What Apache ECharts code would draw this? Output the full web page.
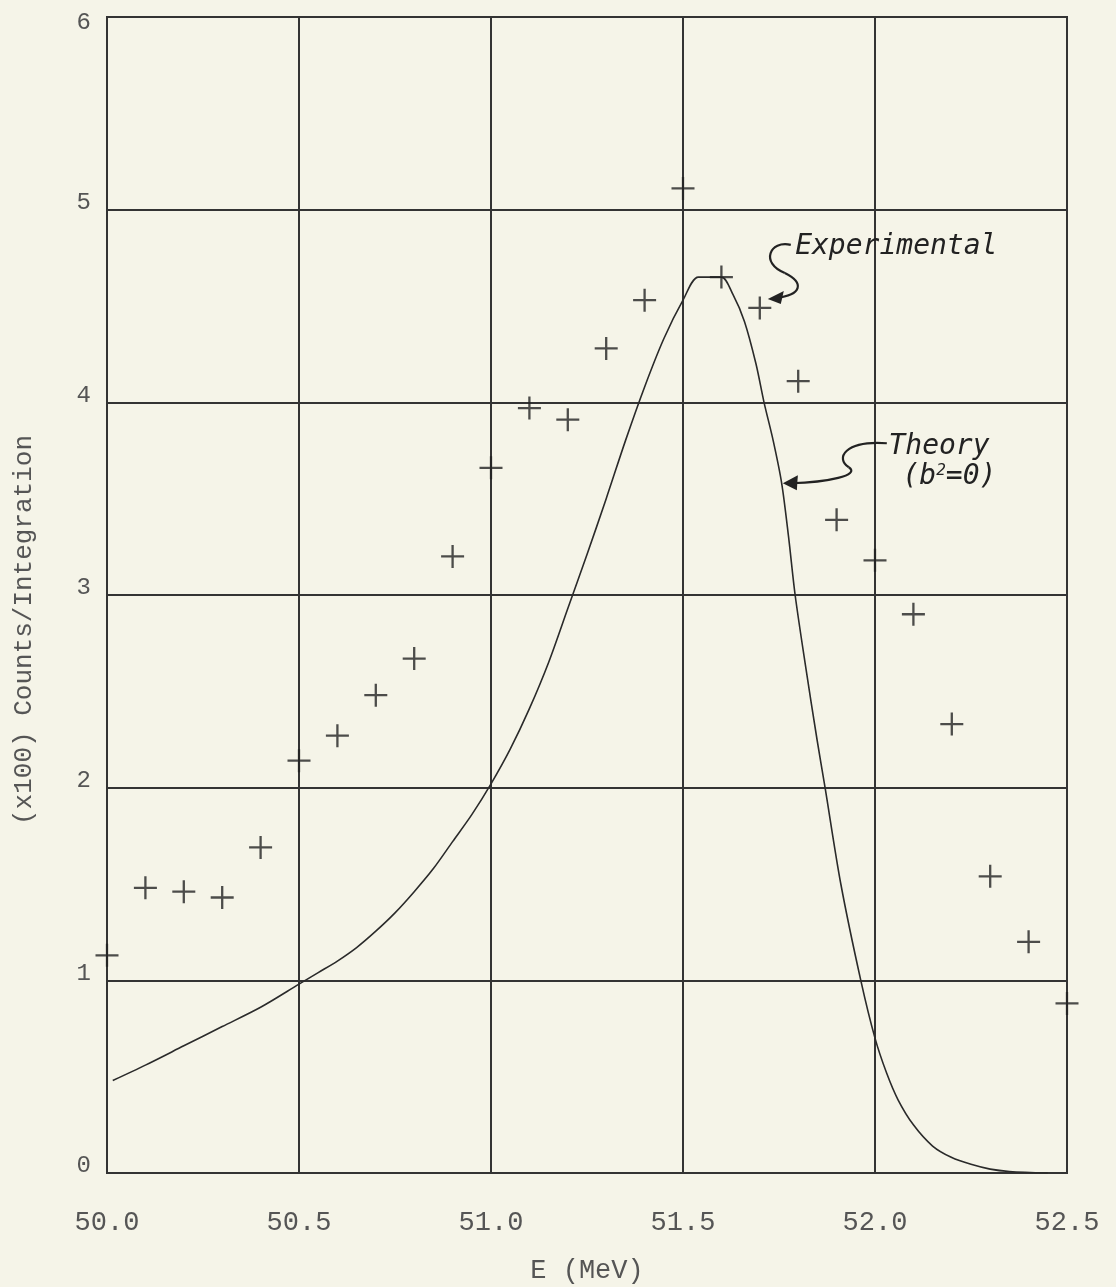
<!DOCTYPE html>
<html>
<head>
<meta charset="utf-8">
<script src="https://cdn.jsdelivr.net/npm/echarts@6/dist/echarts.min.js"></script>
<style>
html,body{margin:0;padding:0;background:#f5f4e8;}
#c{width:1116px;height:1287px;}
</style>
</head>
<body>
<div id="c"></div>
<script>
// Experimental points: energy (MeV) and counts (x100)
const expE = [50.0,50.1,50.2,50.3,50.4,50.5,50.6,50.7,50.8,50.9,51.0,51.1,51.2,51.3,51.4,51.5,51.6,51.7,51.8,51.9,52.0,52.1,52.2,52.3,52.4,52.5];
const expCounts = [1.13,1.48,1.46,1.43,1.69,2.14,2.27,2.48,2.67,3.20,3.66,3.97,3.91,4.28,4.53,5.11,4.65,4.49,4.11,3.39,3.18,2.90,2.33,1.54,1.20,0.88];

// Theory curve (b^2 = 0)
const theoryE = [50.015,50.1,50.2,50.3,50.4,50.5,50.55,50.6,50.65,50.7,50.75,50.8,50.85,50.9,50.95,51.0,51.05,51.1,51.15,51.2,51.25,51.3,51.35,51.4,51.45,51.5,51.54,51.6,51.63,51.66,51.69,51.711,51.735,51.757,51.775,51.792,51.82,51.849,51.87,51.911,51.963,52.0,52.03,52.06,52.1,52.15,52.2,52.25,52.3,52.35,52.45];
const theoryCounts = [0.48,0.56,0.66,0.76,0.86,0.98,1.04,1.10,1.17,1.255,1.35,1.46,1.58,1.72,1.86,2.02,2.20,2.41,2.65,2.93,3.21,3.50,3.80,4.08,4.33,4.53,4.65,4.65,4.56,4.42,4.20,4.00,3.80,3.58,3.30,3.00,2.62,2.25,2.00,1.50,1.00,0.70,0.52,0.38,0.25,0.14,0.08,0.045,0.02,0.008,0.0];

const xTickLabels = ['50.0','50.5','51.0','51.5','52.0','52.5'];
const yTickLabels = ['0','1','2','3','4','5','6'];

const ink = '#333';
const textCol = '#555';

const chart = echarts.init(document.getElementById('c'), null, {renderer:'canvas'});

const option = {
  backgroundColor: '#f5f4e8',
  animation: false,
  grid: {left:107, right:49, top:17, bottom:114, containLabel:false, outerBoundsMode:'none',
    show:true, borderColor:ink, borderWidth:2, backgroundColor:'transparent'},
  xAxis: {
    type:'value', min:50, max:52.5, interval:0.5,
    name:'E (MeV)', nameLocation:'middle', nameGap:84,
    nameTextStyle:{fontFamily:'Liberation Mono', fontSize:27, color:textCol},
    axisLine:{show:true, lineStyle:{color:ink, width:2}},
    axisTick:{show:false},
    splitLine:{show:true, lineStyle:{color:ink, width:2}},
    axisLabel:{margin:36, fontFamily:'Liberation Mono', fontSize:27, color:textCol,
      formatter:(v)=>{const i=Math.round((v-50)/0.5);return xTickLabels[i]!==undefined?xTickLabels[i]:'';}}
  },
  yAxis: {
    type:'value', min:0, max:6, interval:1,
    name:'(x100) Counts/Integration', nameLocation:'middle', nameGap:70,
    nameTextStyle:{fontFamily:'Liberation Mono', fontSize:26, color:textCol, padding:[0,70,0,0]},
    axisLine:{show:true, lineStyle:{color:ink, width:2}},
    axisTick:{show:false},
    splitLine:{show:true, lineStyle:{color:ink, width:2}},
    axisLabel:{margin:16, fontFamily:'Liberation Mono', fontSize:24, color:textCol, verticalAlign:'bottom', lineHeight:24, padding:[0,0,-5,0],
      rich:{t:{fontFamily:'Liberation Mono', fontSize:24, color:textCol, lineHeight:24, padding:[0,0,-25,0]}},
      formatter:(v)=>{const s=yTickLabels[Math.round(v)]||''; return Math.round(v)===6?'{t|'+s+'}':s;}}
  },
  series: [
    {
      type:'line', name:'Theory',
      data: theoryE.map((e,i)=>[e, theoryCounts[i]]),
      showSymbol:false, smooth:0.3,
      lineStyle:{color:'#2a2a2a', width:1.6},
      z:3
    },
    {
      type:'scatter', name:'Experimental',
      data: expE.map((e,i)=>[e, expCounts[i]]),
      symbol:'path://M9,0 h2 v9 h9 v2 h-9 v9 h-2 v-9 h-9 v-2 h9 z',
      symbolSize:23,
      itemStyle:{color:'#222'},
      clip:false,
      z:4
    }
  ]
};
chart.setOption(option);

// Annotations anchored to data coordinates
const expAnchor = [51.7, 4.49];
const thAnchor = [51.76, 3.58];
const expTextAt = [51.792, 4.81];
const thTextAt = [52.035, 3.77];

function px(d){return chart.convertToPixel({gridIndex:0}, d);}
const a = px(expAnchor), t = px(thAnchor), et = px(expTextAt), tt = px(thTextAt);
const lw = 2.2;
function bez(o, s, c1, c2, e){
  return {type:'bezierCurve', shape:{x1:o[0]+s[0],y1:o[1]+s[1],cpx1:o[0]+c1[0],cpy1:o[1]+c1[1],cpx2:o[0]+c2[0],cpy2:o[1]+c2[1],x2:o[0]+e[0],y2:o[1]+e[1]}, style:{stroke:'#222', lineWidth:lw, fill:null}, z:10};
}
function tri(o, pts){
  return {type:'polygon', shape:{points:pts.map(p=>[o[0]+p[0],o[1]+p[1]])}, style:{fill:'#222'}, z:10};
}

chart.setOption({
  graphic: [
    {type:'text', x:et[0], y:et[1], style:{text:'Experimental', font:'oblique 28px "DejaVu Sans Mono"', fill:'#222', textVerticalAlign:'middle'}, z:10},
    bez(a, [31,-63], [10,-68], [0,-45], [25,-35]),
    bez(a, [25,-35], [45,-25], [42,-13], [16,-10]),
    tri(a, [[8,-9],[24,-17],[21,-4]]),
    {type:'text', x:tt[0], y:tt[1], style:{text:'Theory', font:'oblique 28px "DejaVu Sans Mono"', fill:'#222', textVerticalAlign:'middle'}, z:10},
    {type:'text', x:tt[0]+14, y:tt[1]+30, style:{rich:{n:{font:'oblique 28px "DejaVu Sans Mono"', fill:'#222'}, s:{font:'oblique 16px "DejaVu Sans Mono"', fill:'#222', verticalAlign:'top', padding:[0,0,12,0]}}, text:'{n|(b}{s|2}{n|=0)}', textVerticalAlign:'middle'}, z:10},
    bez(t, [104,-40], [62,-43], [52,-25], [66,-16]),
    bez(t, [66,-16], [78,-8], [45,-1], [8,0]),
    tri(t, [[0,0],[15,-8],[14,7]])
  ]
});
</script>
</body>
</html>
